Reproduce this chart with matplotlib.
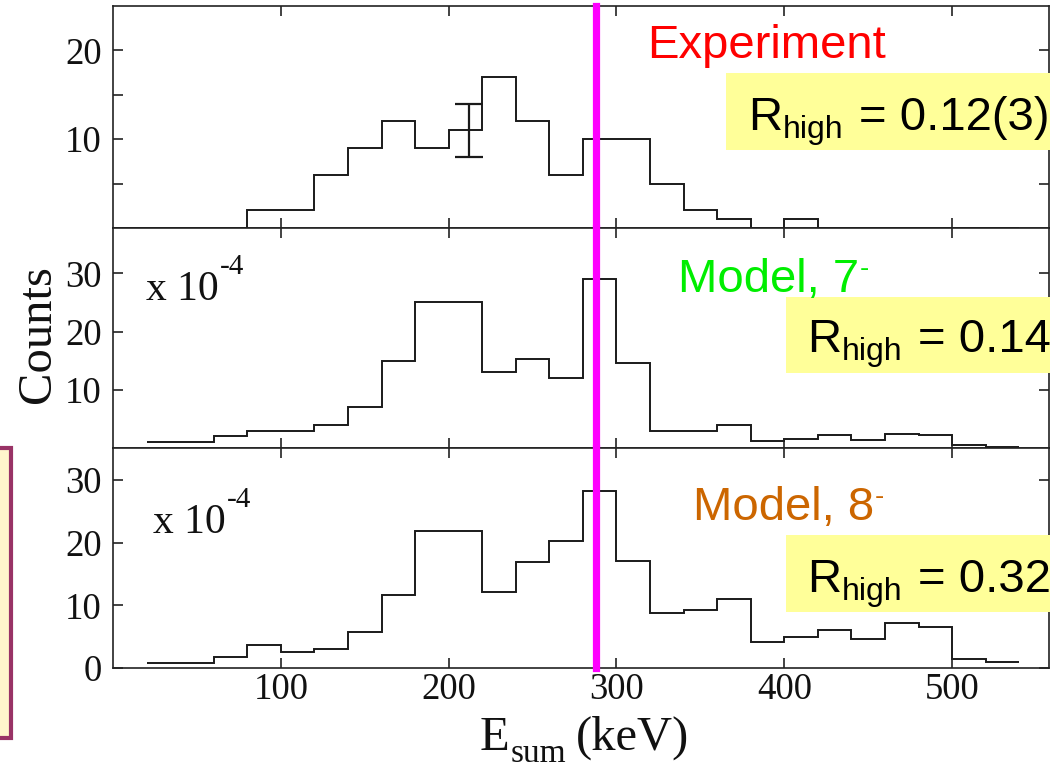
import numpy as np
import matplotlib
matplotlib.use("Agg")
import matplotlib.pyplot as plt
from matplotlib.patches import Rectangle
from matplotlib.transforms import IdentityTransform
from matplotlib.ticker import FixedLocator, FixedFormatter

W, H = 1050, 770
SERIF = "Liberation Serif"
SANS = "Liberation Sans"

# ---------------- data (20 keV bins) ----------------
exp_edges = list(range(0, 560, 20))            # 0..540
exp_counts = [0, 0, 0, 0, 2, 2, 6, 9, 12, 9, 11, 17, 12, 6, 10, 10, 5, 2, 1, 0, 1,
              0, 0, 0, 0, 0, 0]
exp_err_x = 212
exp_err_y = 11
exp_err = 3

model_edges = list(range(20, 560, 20))         # 20..540
model7 = [1, 1, 2, 3, 3, 4, 7, 15, 25, 25, 13, 15.3, 12, 29, 14.6, 3, 3, 3.9, 1.2,
          1.6, 2.2, 1.4, 2.4, 2.2, 0.45, 0.15]
model8 = [0.8, 0.8, 1.7, 3.6, 2.6, 3.0, 5.8, 11.7, 21.8, 21.8, 12.1, 16.9, 20.2, 28.2,
          17.1, 8.7, 9.2, 11.0, 4.2, 4.9, 6.0, 4.6, 7.1, 6.5, 1.45, 0.9]

cut_energy = 288
x_ticks = [100, 200, 300, 400, 500]
top_yticks = [5, 10, 15, 20]
top_ylabels = ["", "10", "", "20"]
mid_yticks = [10, 20, 30]
bot_yticks = [0, 10, 20, 30]

panel_titles = ["Experiment", "Model, 7", "Model, 8"]
panel_sup = ["", "-", "-"]
panel_colors = ["#ff0000", "#00ee00", "#cc6600"]
r_values = ["0.12(3)", "0.14", "0.32"]

# ---------------- figure ----------------
fig = plt.figure(figsize=(W / 100, H / 100), dpi=100)

def fx(x):
    return x / W

def fy(y):
    return 1 - y / H

left = fx(113)
right = fx(1049)
panels = [(6, 228), (228, 448), (448, 668)]
axes = []
for (t, b) in panels:
    ax = fig.add_axes([left, fy(b), right - left, (b - t) / H])
    axes.append(ax)

ylims = [(0, 25), (0, 37.8), (0, 35.1)]
line_col = "#1a1a1a"

for i, ax in enumerate(axes):
    ax.set_xlim(0, 557.7)
    ax.set_ylim(*ylims[i])
    for s in ax.spines.values():
        s.set_linewidth(1.2)
        s.set_color("#222222")
    ax.tick_params(axis="both", which="major", direction="in", length=7, width=1.2,
                   top=True, right=True, color="#222222",
                   labelsize=26.5, labelcolor="#111111")
    ax.tick_params(axis="y", pad=8)
    ax.tick_params(axis="x", pad=3)
    ax.xaxis.set_major_locator(FixedLocator(x_ticks))
    if i < 2:
        ax.tick_params(axis="x", labelbottom=False)

axes[0].yaxis.set_major_locator(FixedLocator(top_yticks))
axes[0].yaxis.set_major_formatter(FixedFormatter(top_ylabels))
axes[1].yaxis.set_major_locator(FixedLocator(mid_yticks))
axes[2].yaxis.set_major_locator(FixedLocator(bot_yticks))
for ax in axes:
    for lab in ax.get_xticklabels() + ax.get_yticklabels():
        lab.set_fontfamily(SERIF)

# histograms
axes[0].stairs(exp_counts, exp_edges, baseline=None, color=line_col, lw=1.4)
axes[0].errorbar([exp_err_x], [exp_err_y], yerr=[exp_err], fmt="none",
                 ecolor=line_col, elinewidth=1.6, capsize=10, capthick=1.6)
axes[1].stairs(model7, model_edges, baseline=None, color=line_col, lw=1.4)
axes[2].stairs(model8, model_edges, baseline=None, color=line_col, lw=1.4)

for ax in axes:
    ax.axvline(cut_energy, color="#ff00ff", lw=5.2, zorder=5, clip_on=False)

# ---------------- texts ----------------
renderer = fig.canvas.get_renderer()
ident = IdentityTransform()

def seq(x, y, parts, zorder=10):
    """parts: (text, size, family, color, gap_px, dy_px); y = baseline in px from top"""
    cx = x
    for (s, size, fam, col, gap, dy) in parts:
        cx += gap
        t = fig.text(cx, H - (y + dy), s, transform=ident, fontsize=size,
                     family=fam, color=col, ha="left", va="baseline", zorder=zorder)
        bb = t.get_window_extent(renderer)
        cx = bb.x1
    return cx

# yellow boxes
boxes = [(726, 73, 1050, 150), (786, 297, 1050, 373), (786, 535, 1050, 612)]
for (x0, y0, x1, y1) in boxes:
    fig.patches.append(Rectangle((fx(x0), fy(y1)), fx(x1) - fx(x0), (y1 - y0) / H,
                                 transform=fig.transFigure, facecolor="#ffff99",
                                 edgecolor="none", zorder=8))

title_pos = [(647, 58), (678, 292), (693, 520)]
r_pos = [(748, 130), (807, 352), (807, 592)]
for i in range(3):
    tx, ty = title_pos[i]
    parts = [(panel_titles[i], 34, SANS, panel_colors[i], 0, 0)]
    if panel_sup[i]:
        parts.append((panel_sup[i], 20, SANS, panel_colors[i], 1, -16))
    seq(tx, ty, parts)
    rx, ry = r_pos[i]
    seq(rx, ry, [("R", 34, SANS, "black", 0, 0),
                 ("high", 23, SANS, "black", 1, 8),
                 ("= " + r_values[i], 34, SANS, "black", 15, 0)])

# scale factor annotations
for (x, y) in [(146, 300), (153, 533)]:
    seq(x, y, [("x 10", 30, SERIF, "#111111", 0, 0),
               ("-4", 21, SERIF, "#111111", 1, -26)])

# axis labels
fig.text(fx(38), fy(334), "Counts", rotation=90, ha="center", va="center",
         fontsize=35, family=SERIF, color="#111111")
seq(480, 750, [("E", 35, SERIF, "#111111", 0, 0),
               ("sum", 24, SERIF, "#111111", 1, 12),
               ("(keV)", 35, SERIF, "#111111", 10, 0)])

# left-side box (slide artefact)
fig.patches.append(Rectangle((fx(-10), fy(738)), fx(21), (738 - 448) / H,
                             transform=fig.transFigure, facecolor="#fff6cc",
                             edgecolor="#993366", lw=3, zorder=8))

fig.savefig("out.png", dpi=100)
